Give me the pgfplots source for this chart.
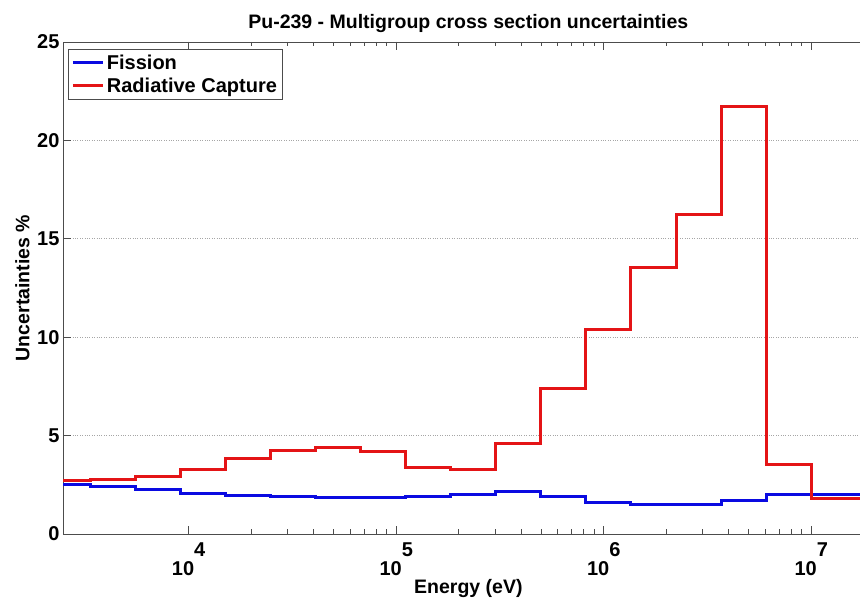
\documentclass[border=0pt]{standalone}
\usepackage{pgfplots}
\pgfplotsset{compat=1.18}
\usepackage{fontspec}
\setmainfont{Liberation Sans}
\definecolor{mred}{RGB}{228,20,22}
\definecolor{mblue}{RGB}{10,10,225}
\newcommand{\fs}{\fontsize{19.5}{22}\selectfont\bfseries}
\newcommand{\fl}{\fontsize{20}{22}\selectfont\bfseries}
\newcommand{\tl}[1]{\textbf{10}\raisebox{0.95em}{\textbf{#1}}}
\begin{document}
\begin{tikzpicture}
\begin{axis}[
  at={(0pt,0pt)}, anchor=south west,
  scale only axis, width=810.7pt, height=492pt,
  xmode=log, xmin=2480, xmax=2e7,
  ymin=0, ymax=25,
  ytick={0,5,10,15,20,25},
  xtick={1e4,1e5,1e6,1e7},
  xticklabels={\tl{4},\tl{5},\tl{6},\tl{7}},
  /pgf/number format/assume math mode=true,
  tick label style={font=\fl},
  xticklabel style={yshift=-5pt},
  tick align=inside,
  major tick length=8pt, minor tick length=4.5pt,
  ytick pos=left,
  every tick/.style={gray!60!black, line width=0.6pt},
  axis line style={gray!60!black, line width=0.9pt},
  ymajorgrids=true,
  grid style={dotted, gray!70, line width=0.6pt},
  title={Pu-239 - Multigroup cross section uncertainties},
  every axis title shift=0pt,
  title style={font=\fs, at={(axis description cs:0.5,1)}, anchor=base, inner sep=0pt, yshift=13pt},
  xlabel={Energy (eV)},
  xlabel style={font=\fs, at={(axis description cs:0.5,0)}, anchor=north, inner sep=0pt, yshift=-45pt},
  ylabel={Uncertainties \%},
  ylabel style={font=\fs, at={(axis description cs:-0.0592,0.5)}, anchor=north, inner sep=0pt},
  legend style={at={(axis description cs:0.0062,0.986)}, anchor=north west,
    draw=gray!60!black, line width=0.8pt, font=\fl, inner xsep=3pt, inner ysep=3pt,
    row sep=2pt, nodes={inner sep=2.5pt}},
  legend cell align=left,
  legend image code/.code={\draw[#1, line width=3pt] (0pt,0pt) -- (30pt,0pt);},
  clip=true,
]
\addplot[const plot, mblue, line width=3pt] coordinates {
(2480,2.50) (3354.6,2.42) (5530.8,2.27) (9118.8,2.07) (15034,1.97) (24788,1.89)
(40868,1.86) (67379,1.83) (111090,1.91) (183160,2.00) (301970,2.17) (497870,1.91)
(820850,1.62) (1353400,1.48) (2231300,1.51) (3678800,1.68) (6065300,2.02)
(10000000,2.00) (20000000,2.00)
};
\addlegendentry{Fission}
\addplot[const plot, mred, line width=3pt] coordinates {
(2480,2.72) (3354.6,2.75) (5530.8,2.90) (9118.8,3.28) (15034,3.84) (24788,4.24)
(40868,4.38) (67379,4.18) (111090,3.36) (183160,3.26) (301970,4.58) (497870,7.38)
(820850,10.41) (1353400,13.55) (2231300,16.21) (3678800,21.74) (6065300,3.52)
(10000000,1.80) (20000000,1.80)
};
\addlegendentry{Radiative Capture}
\end{axis}
\pgfresetboundingbox
\path (-63pt,-65.7pt) rectangle (797pt,534pt);
\end{tikzpicture}
\end{document}
